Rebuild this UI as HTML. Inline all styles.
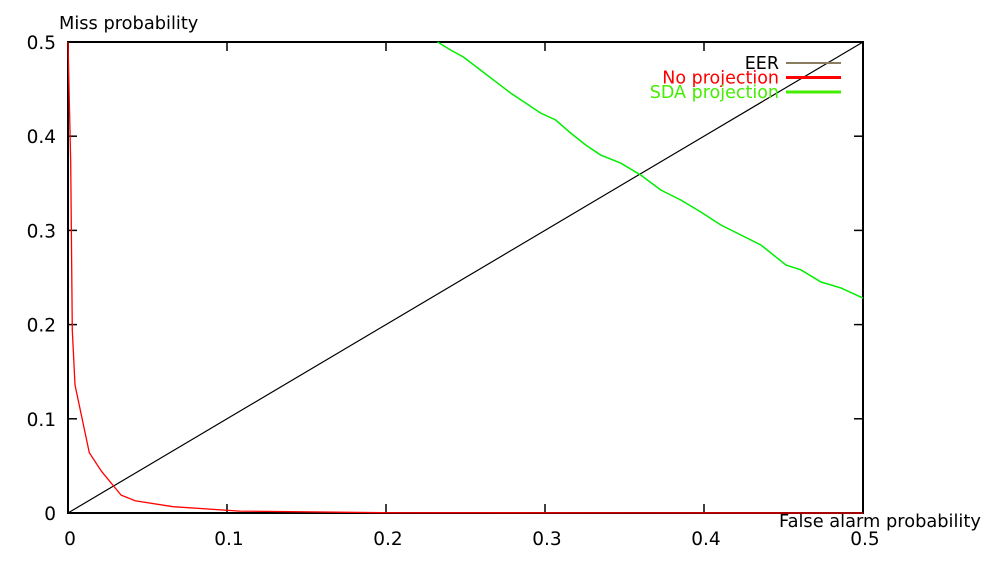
<!DOCTYPE html>
<html><head><meta charset="utf-8"><style>
html,body{margin:0;padding:0;background:#fff;}
svg{display:block;font-family:"DejaVu Sans","Liberation Sans",sans-serif;}
</style></head><body>
<svg id="chart" width="1000" height="562">
<g id="axes"></g>
<g id="series"></g>
<g id="legend"></g>
</svg>
<script>
const xTicks=[0,0.1,0.2,0.3,0.4,0.5];
const yTicks=[0,0.1,0.2,0.3,0.4,0.5];
const xTickLabels=["0","0.1","0.2","0.3","0.4","0.5"];
const yTickLabels=["0","0.1","0.2","0.3","0.4","0.5"];
const eerX=[0,0.5];
const eerY=[0,0.5];
const noProjX=[0,0.0017,0.0027,0.0044,0.0134,0.0212,0.0334,0.0422,0.066,0.108,0.2,0.5];
const noProjY=[0.5,0.372,0.194,0.136,0.064,0.044,0.019,0.013,0.0067,0.002,0.0003,0];
const sdaX=[0.2324,0.2406,0.2487,0.2594,0.2676,0.2783,0.2878,0.2972,0.3067,0.3161,0.3256,0.335,0.3476,0.3602,0.3728,0.3854,0.398,0.4106,0.4232,0.4358,0.4515,0.461,0.4736,0.4861,0.5];
const sdaY=[0.5,0.4915,0.4841,0.4703,0.4597,0.4459,0.4352,0.4246,0.4172,0.4034,0.3907,0.38,0.3715,0.3588,0.3429,0.3323,0.3195,0.3057,0.2951,0.2845,0.2633,0.258,0.2452,0.2389,0.2282];

const L=68,R=863,T=42,B=513;
const sx=v=>L+(v-0)/(0.5)*(R-L);
const sy=v=>B-(v-0)/(0.5)*(B-T);
const NS="http://www.w3.org/2000/svg";
function mk(tag,parent,attrs){const e=document.createElementNS(NS,tag);for(const k in attrs)e.setAttribute(k,attrs[k]);parent.appendChild(e);return e;}
const axes=document.getElementById('axes');
const frame=mk('rect',axes,{x:L,y:T,width:R-L,height:B-T,fill:'none',stroke:'#000','stroke-width':2});


xTicks.forEach((v,i)=>{
  const x=sx(v);
  const t1=mk('line',axes,{x1:x,y1:B,x2:x,y2:B-9,stroke:'#000','stroke-width':1.5});
  
  
  const t2=mk('line',axes,{x1:x,y1:T,x2:x,y2:T+9,stroke:'#000','stroke-width':1.5});
  
  
  const tx=mk('text',axes,{x:x+2,y:545,'text-anchor':'middle','font-size':18.5,fill:'#000'});
  tx.textContent=xTickLabels[i];
  
  
});
yTicks.forEach((v,i)=>{
  const y=sy(v);
  const t1=mk('line',axes,{x1:L,y1:y,x2:L+9,y2:y,stroke:'#000','stroke-width':1.5});
  
  
  const t2=mk('line',axes,{x1:R,y1:y,x2:R-9,y2:y,stroke:'#000','stroke-width':1.5});
  
  
  const tx=mk('text',axes,{x:56,y:y+7,'text-anchor':'end','font-size':18.5,fill:'#000'});
  tx.textContent=yTickLabels[i];
  
  
});
const yt=mk('text',axes,{x:59,y:29,'font-size':17.8,fill:'#000'});
yt.textContent='Miss probability';


const xt=mk('text',axes,{x:779,y:527,'font-size':17.8,fill:'#000'});
xt.textContent='False alarm probability';



const ser=document.getElementById('series');
function poly(xs,ys,color,w,name){
  const pts=xs.map((v,i)=>sx(v)+','+sy(ys[i])).join(' ');
  const p=mk('polyline',ser,{points:pts,fill:'none',stroke:color,'stroke-width':w});
  
  
}
poly(eerX,eerY,'#000',1.2,'eer-line');
poly(noProjX,noProjY,'#ff0000',1.3,'no-projection-line');
poly(sdaX,sdaY,'#00ee00',1.5,'sda-projection-line');

const lg=document.getElementById('legend');
const items=[["EER","#000","#8b7d5f",2],["No projection","#ff0000","#ff0000",3],["SDA projection","#44ee00","#44ee00",3]];
items.forEach((it,i)=>{
  const y=63+i*14.5;
  const t=mk('text',lg,{x:779,y:y+6,'text-anchor':'end','font-size':17.5,fill:it[1]});
  t.textContent=it[0];
  
  
  const l=mk('line',lg,{x1:786,y1:y,x2:841,y2:y,stroke:it[2],'stroke-width':it[3]});
  
  
});
</script>
</body></html>
